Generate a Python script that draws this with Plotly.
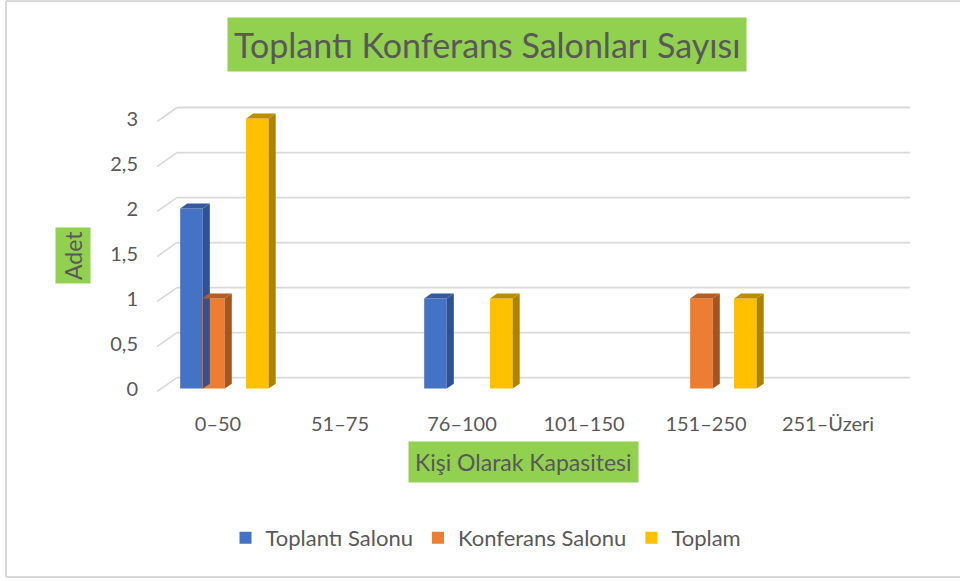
import plotly.graph_objects as go

categories = ["0–50", "51–75", "76–100", "101–150", "151–250", "251–Üzeri"]
series_names = ["Toplantı Salonu", "Konferans Salonu", "Toplam"]
toplanti = [2, 0, 1, 0, 0, 0]
konferans = [1, 0, 0, 0, 1, 0]
toplam = [3, 0, 1, 0, 1, 0]
y_ticks = [0, 0.5, 1, 1.5, 2, 2.5, 3]
y_tick_labels = ["0", "0,5", "1", "1,5", "2", "2,5", "3"]

title_text = "Toplantı Konferans Salonları Sayısı"
x_title = "Kişi Olarak Kapasitesi"
y_title = "Adet"

# style
front_colors = ["#4472C4", "#ED7D31", "#FFC000"]
side_colors = ["#2F5293", "#A5561F", "#AD8300"]
top_colors = ["#36599E", "#B35E22", "#BB8E00"]
offsets = [-0.31, -0.13, 0.23]
bar_w = 0.185
DX = 0.058   # bar depth (x units)
DY = 0.055   # bar depth (y units)
GX = 0.164   # floor depth for grid
GUP = 0.122
GDN = 0.033
grid_col = "#D9D9D9"
txt_col = "#595959"
FONT = "Lato"
green = "#92D050"

x_idx = list(range(len(categories)))
fig = go.Figure()
for name, vals, fc, off in zip(series_names, [toplanti, konferans, toplam], front_colors, offsets):
    fig.add_trace(go.Bar(
        x=x_idx, y=vals, name=name, marker=dict(color=fc, line=dict(width=0)),
        width=bar_w, offset=off,
    ))

shapes = []
x_lo, x_hi = -0.5, 5.672
# grid (back wall lines + floor depth diagonals)
for v in y_ticks:
    shapes.append(dict(type="line", xref="x", yref="y", x0=x_lo + GX, x1=x_hi, y0=v + GUP, y1=v + GUP,
                       line=dict(color=grid_col, width=1.8), layer="below"))
    shapes.append(dict(type="line", xref="x", yref="y", x0=x_lo, x1=x_lo + GX, y0=v - GDN, y1=v + GUP,
                       line=dict(color=grid_col, width=1.6), layer="below"))

# 3D faces
for vals, off, sc, tc in zip([toplanti, konferans, toplam], offsets, side_colors, top_colors):
    for xi, v in zip(x_idx, vals):
        if v <= 0:
            continue
        xl = xi + off
        xr = xl + bar_w
        shapes.append(dict(type="path", xref="x", yref="y",
                           path=f"M {xr},0 L {xr+DX},{DY} L {xr+DX},{v+DY} L {xr},{v} Z",
                           fillcolor=sc, line=dict(width=0), layer="above"))
        shapes.append(dict(type="path", xref="x", yref="y",
                           path=f"M {xl},{v} L {xl+DX},{v+DY} L {xr+DX},{v+DY} L {xr},{v} Z",
                           fillcolor=tc, line=dict(width=0), layer="above"))

# outer chart border (right edge falls outside the picture)
L, R, T, B = 157, 50, 105, 187
PW, PH = 960 - L - R, 581 - T - B
def px(x):
    return (x - L) / PW
def py(y):
    return (581 - B - y) / PH
for (a, b, c, d) in [(6, 1, 975, 1), (6, 1, 6, 577), (6, 577, 975, 577)]:
    shapes.append(dict(type="line", xref="paper", yref="paper", x0=px(a), y0=py(b), x1=px(c), y1=py(d),
                       line=dict(color=grid_col, width=2), layer="below"))

annotations = [
    dict(text=title_text, xref="paper", yref="paper", x=px(487), y=py(44), showarrow=False,
         font=dict(family=FONT, size=34, color=txt_col), bgcolor=green, borderpad=6,
         xanchor="center", yanchor="middle"),
    dict(text=y_title, xref="paper", yref="paper", x=px(73), y=py(256), showarrow=False, textangle=-90,
         font=dict(family=FONT, size=23, color=txt_col), bgcolor=green, borderpad=3,
         xanchor="center", yanchor="middle"),
    dict(text=x_title, xref="paper", yref="paper", x=px(523), y=py(462), showarrow=False,
         font=dict(family=FONT, size=23, color=txt_col), bgcolor=green, borderpad=6,
         xanchor="center", yanchor="middle"),
]

fig.update_layout(
    width=960, height=581,
    margin=dict(l=L, r=R, t=T, b=B, autoexpand=False),
    paper_bgcolor="white", plot_bgcolor="white",
    font=dict(family=FONT, color=txt_col),
    showlegend=True,
    legend=dict(orientation="h", x=px(486), y=py(538), xanchor="center", yanchor="middle",
                font=dict(family=FONT, size=22, color=txt_col), traceorder="normal"),
    xaxis=dict(range=[x_lo, x_hi], tickvals=x_idx, ticktext=categories, showgrid=False, zeroline=False,
               showline=False, ticks="", tickfont=dict(family=FONT, size=20, color=txt_col),
               ticklabelstandoff=16, fixedrange=True),
    yaxis=dict(range=[-0.06, 3.15], tickvals=y_ticks, ticktext=y_tick_labels, showgrid=False,
               zeroline=False, showline=False, ticks="", tickfont=dict(family=FONT, size=20, color=txt_col),
               ticklabelstandoff=18, fixedrange=True),
    shapes=shapes, annotations=annotations,
)

fig.write_html("out.html", config={"displayModeBar": False},
               post_script="document.body.style.margin='0';document.body.style.overflow='hidden';")
